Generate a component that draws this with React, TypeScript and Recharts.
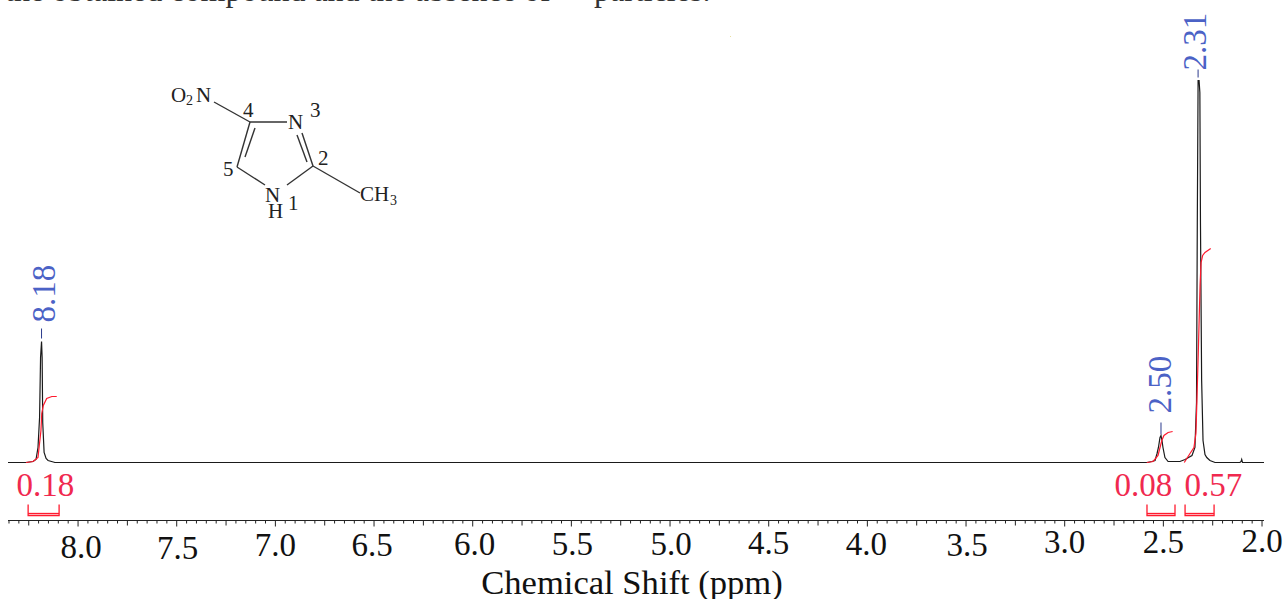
import { LineChart, Line, XAxis, YAxis, ReferenceDot } from "recharts";

const SERIF = '"Liberation Serif", serif';
const PICK_BLUE = "#4b62c6";
const INT_RED = "#f0294f";

// spectrum trace, chemical shift (ppm) against intensity
const shiftPpm = [
  8.355, 8.264, 8.228, 8.213, 8.203, 8.195, 8.19, 8.185, 8.182, 8.179, 8.172, 8.162, 8.152, 8.117,
  2.583, 2.558, 2.542, 2.532, 2.525, 2.517, 2.512, 2.507, 2.502, 2.492, 2.476, 2.456,
  2.416, 2.39, 2.355, 2.34, 2.332, 2.328, 2.324, 2.319, 2.315, 2.312, 2.306, 2.299, 2.289, 2.28, 2.264, 2.238,
  2.112, 2.106, 2.103, 2.099, 1.99,
];
const intensity = [
  0, 0, 1, 3, 15, 45, 105, 121, 105, 40, 10, 4, 2, 0,
  0, 1, 2, 9, 15, 25, 27, 22, 15, 5, 1, 1,
  1, 3, 7, 15, 60, 240, 382, 382, 370, 240, 82, 22, 8, 5, 2, 0,
  0, 1, 3, 0, 0,
];

// integral curves
const int1Ppm = [8.264, 8.228, 8.203, 8.188, 8.184, 8.176, 8.159, 8.133, 8.108];
const int1Val = [0, 1, 5, 32, 49, 57, 64, 66, 66];
const int2Ppm = [2.584, 2.552, 2.527, 2.508, 2.497, 2.476, 2.453];
const int2Val = [0, 1, 7, 22, 27, 30, 31];
const int3Ppm = [2.394, 2.365, 2.345, 2.335, 2.331, 2.323, 2.314, 2.309, 2.301, 2.289, 2.26];
const int3Val = [0, 9, 15, 29, 55, 110, 177, 200, 207, 210, 214];

const integralLabels = ["0.18", "0.08", "0.57"];
const integralCentres = [8.165, 2.601, 2.246];
const bracketStart = [8.253, 2.583, 2.39];
const bracketEnd = [8.096, 2.441, 2.243];

const peakLabels = ["8.18", "2.50", "2.31"];
const peakShifts = [8.185, 2.512, 2.324];
const peakTops = [124, 28, 385];
const peakDashLen = [10, 12, 8];
const peakLabelGap = [6, 9, -1];
const peakLabelDx = [0, -3, -5];

const majorTicks = [8.0, 7.5, 7.0, 6.5, 6.0, 5.5, 5.0, 4.5, 4.0, 3.5, 3.0, 2.5, 2.0];
// the scanned labels sit slightly off their ticks
const labelDx = [3, 1, 0, -2, 2, 1, 1, 0, -1, 1, 0, 0, 0];
const labelBaseline = [558, 559, 556, 556, 555, 555, 555, 554, 555, 556, 553, 553, 552];

const allTicks: number[] = [];
for (let i = 0; i <= 127; i++) allTicks.push(Number((2 + i * 0.05).toFixed(2)));

const zip = (xs: number[], ys: number[]) => xs.map((ppm, i) => ({ ppm, h: ys[i] }));

function AxisTick({ x, y, payload }: any) {
  const v = payload.value;
  const hundredths = Math.round(v * 100);
  const majorIdx = majorTicks.indexOf(v);
  const len = hundredths % 50 === 0 ? 6 : hundredths % 25 === 0 ? 5 : 3;
  return (
    <g>
      <line x1={x} x2={x} y1={y} y2={y + len} stroke="#222" strokeWidth={1} />
      {majorIdx >= 0 && (
        <text
          x={x + labelDx[majorIdx]}
          y={labelBaseline[majorIdx]}
          textAnchor="middle"
          fontFamily={SERIF}
          fontSize={33}
          fill="#111"
        >
          {v.toFixed(1)}
        </text>
      )}
    </g>
  );
}

function PeakLabel({ viewBox, value, gap, dx }: any) {
  const cx = viewBox.x + 2 + dx;
  const cy = viewBox.y - gap;
  return (
    <text
      transform={`translate(${cx + 11}, ${cy}) rotate(-90)`}
      fontFamily={SERIF}
      fontSize={33}
      fill={PICK_BLUE}
    >
      {value}
    </text>
  );
}

function IntegralLabel({ viewBox, value }: any) {
  return (
    <text x={viewBox.x} y={viewBox.y} textAnchor="middle" fontFamily={SERIF} fontSize={33} fill={INT_RED}>
      {value}
    </text>
  );
}

function Molecule() {
  const bonds = [
    [214, 102, 250, 122],
    [250, 122, 287, 122],
    [302, 133, 313, 166],
    [297, 135, 307, 162],
    [313, 166, 287, 185],
    [265, 185, 237, 167],
    [237, 167, 250, 122],
    [245, 157, 255, 128],
    [313, 166, 360, 193],
  ];
  const t = { fontFamily: SERIF, fontSize: 21, fill: "#222" };
  return (
    <svg width={1287} height={599} style={{ position: "absolute", left: 0, top: 0, pointerEvents: "none" }}>
      <text x={5} y={0.7} fontFamily={SERIF} fontSize={32} fill="#333">
        the obtained compound and the absence of
        <tspan x={594}>particles.</tspan>
      </text>
      <rect x={730} y={36} width={1} height={1} fill="#e8e0a0" />
      {bonds.map((b, i) => (
        <line key={i} x1={b[0]} y1={b[1]} x2={b[2]} y2={b[3]} stroke="#333" strokeWidth={1.4} />
      ))}
      <text {...t} x={171} y={102}>O</text>
      <text {...t} x={186} y={105} fontSize={14}>2</text>
      <text {...t} x={196} y={102}>N</text>
      <text {...t} x={288} y={129}>N</text>
      <text {...t} x={310} y={117}>3</text>
      <text {...t} x={243} y={117}>4</text>
      <text {...t} x={318} y={165}>2</text>
      <text {...t} x={223} y={176}>5</text>
      <text {...t} x={265} y={202}>N</text>
      <text {...t} x={268} y={218}>H</text>
      <text {...t} x={288} y={210}>1</text>
      <text {...t} x={360} y={201}>CH</text>
      <text {...t} x={390} y={205} fontSize={14}>3</text>
    </svg>
  );
}

export default function App() {
  const spectrum = zip(shiftPpm, intensity);
  const curves = [zip(int1Ppm, int1Val), zip(int2Ppm, int2Val), zip(int3Ppm, int3Val)];

  return (
    <div style={{ position: "absolute", left: 0, top: 0, width: 1287, height: 599, background: "#fff" }}>
      <LineChart width={1287} height={599} margin={{ top: 0, right: 23, bottom: 0, left: 8 }} data={spectrum}>
        <XAxis
          dataKey="ppm"
          type="number"
          domain={[1.99, 8.355]}
          reversed
          ticks={allTicks}
          interval={0}
          height={78.5}
          tickSize={0}
          tickMargin={0}
          tickLine={false}
          axisLine={{ stroke: "#222", strokeWidth: 1 }}
          tick={<AxisTick />}
          label={{
            value: "Chemical Shift (ppm)",
            position: "insideBottom",
            offset: 5,
            dx: -4,
            fontFamily: SERIF,
            fontSize: 34.6,
            fill: "#111",
          }}
        />
        <YAxis hide type="number" domain={[-58, 462.5]} />
        <Line
          data={spectrum}
          dataKey="h"
          stroke="#1a1a1a"
          strokeWidth={1.2}
          dot={false}
          isAnimationActive={false}
        />
        {curves.map((c, i) => (
          <Line key={i} data={c} dataKey="h" stroke="#ff1a2e" strokeWidth={1.2} dot={false} isAnimationActive={false} />
        ))}
        {bracketStart.map((a, i) => (
          <Line
            key={`b${i}`}
            data={[
              { ppm: a, h: -42 },
              { ppm: a, h: -53 },
              { ppm: bracketEnd[i], h: -53 },
              { ppm: bracketEnd[i], h: -42 },
            ]}
            dataKey="h"
            stroke="#ff1a2e"
            strokeWidth={1.3}
            dot={false}
            isAnimationActive={false}
          />
        ))}
        {bracketStart.map((a, i) => (
          <Line
            key={`c${i}`}
            data={[
              { ppm: a, h: -51 },
              { ppm: bracketEnd[i], h: -51 },
            ]}
            dataKey="h"
            stroke="#ff1a2e"
            strokeWidth={1.3}
            dot={false}
            isAnimationActive={false}
          />
        ))}
        {peakShifts.map((p, i) => (
          <Line
            key={`p${i}`}
            data={[
              { ppm: p, h: peakTops[i] },
              { ppm: p, h: peakTops[i] + peakDashLen[i] },
            ]}
            dataKey="h"
            stroke="#2b3a8c"
            strokeWidth={1}
            dot={false}
            isAnimationActive={false}
          />
        ))}
        {peakShifts.map((p, i) => (
          <ReferenceDot
            key={`l${i}`}
            x={p}
            y={peakTops[i] + peakDashLen[i]}
            r={0}
            stroke="none"
            fill="none"
            label={<PeakLabel value={peakLabels[i]} gap={peakLabelGap[i]} dx={peakLabelDx[i]} />}
          />
        ))}
        {integralCentres.map((c, i) => (
          <ReferenceDot
            key={`il${i}`}
            x={c}
            y={-33}
            r={0}
            stroke="none"
            fill="none"
            label={<IntegralLabel value={integralLabels[i]} />}
          />
        ))}
      </LineChart>
      <Molecule />
    </div>
  );
}
